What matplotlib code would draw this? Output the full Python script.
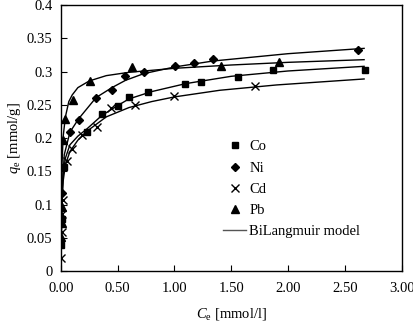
import matplotlib
matplotlib.use('Agg')
import matplotlib.pyplot as plt

plt.rcParams.update({
    'font.family': 'Liberation Serif',
    'font.size': 10.5,
    'mathtext.fontset': 'custom',
    'mathtext.rm': 'Liberation Serif',
    'mathtext.it': 'Liberation Serif:italic',
})

# measured points
co_x = [0.005, 0.01, 0.03, 0.23, 0.36, 0.50, 0.60, 0.77, 1.09, 1.23, 1.56, 1.87, 2.68]
co_y = [0.039, 0.078, 0.157, 0.209, 0.237, 0.248, 0.262, 0.270, 0.282, 0.284, 0.292, 0.302, 0.303]

ni_x = [0.01, 0.08, 0.156, 0.31, 0.447, 0.568, 0.73, 1.006, 1.17, 1.34, 2.62]
ni_y = [0.117, 0.209, 0.227, 0.261, 0.273, 0.293, 0.299, 0.309, 0.313, 0.319, 0.332]

cd_x = [0.002, 0.006, 0.01, 0.015, 0.05, 0.094, 0.19, 0.315, 0.44, 0.65, 0.997, 1.706]
cd_y = [0.019, 0.059, 0.086, 0.107, 0.165, 0.183, 0.2045, 0.217, 0.246, 0.250, 0.264, 0.278]

pb_x = [0.004, 0.007, 0.01, 0.015, 0.035, 0.11, 0.26, 0.63, 1.41, 1.92]
pb_y = [0.052, 0.072, 0.097, 0.197, 0.229, 0.257, 0.286, 0.307, 0.309, 0.315]

# BiLangmuir model curves
pb_fit_x = [0, 0.005, 0.01, 0.02, 0.04, 0.07, 0.1, 0.15, 0.25, 0.4, 0.6, 1.0, 1.5, 2.0, 2.67]
pb_fit_y = [0, 0.10, 0.16, 0.202, 0.232, 0.255, 0.265, 0.276, 0.286, 0.294, 0.299, 0.305, 0.310, 0.314, 0.318]

ni_fit_x = [0, 0.01, 0.03, 0.08, 0.156, 0.31, 0.45, 0.57, 0.73, 1.0, 1.34, 2.0, 2.67]
ni_fit_y = [0, 0.12, 0.175, 0.209, 0.229, 0.261, 0.276, 0.287, 0.297, 0.307, 0.316, 0.327, 0.335]

co_fit_x = [0, 0.005, 0.01, 0.02, 0.04, 0.08, 0.15, 0.23, 0.36, 0.5, 0.6, 0.8, 1.1, 1.5, 2.0, 2.67]
co_fit_y = [0, 0.07, 0.11, 0.145, 0.17, 0.19, 0.203, 0.214, 0.234, 0.249, 0.259, 0.270, 0.282, 0.293, 0.301, 0.308]

cd_fit_x = [0, 0.005, 0.01, 0.02, 0.04, 0.08, 0.15, 0.25, 0.4, 0.6, 0.8, 1.0, 1.4, 1.9, 2.67]
cd_fit_y = [0, 0.06, 0.10, 0.135, 0.16, 0.18, 0.197, 0.213, 0.232, 0.246, 0.255, 0.262, 0.272, 0.280, 0.289]

x_ticks = [0, 0.5, 1.0, 1.5, 2.0, 2.5, 3.0]
x_labels = ['0.00', '0.50', '1.00', '1.50', '2.00', '2.50', '3.00']
y_ticks = [0, 0.05, 0.1, 0.15, 0.2, 0.25, 0.3, 0.35, 0.4]
y_labels = ['0', '0.05', '0.1', '0.15', '0.2', '0.25', '0.3', '0.35', '0.4']

fig = plt.figure(figsize=(4.14, 3.22), dpi=100)
ax = fig.add_axes([0.147, 0.158, 0.823, 0.826])

lw = 1.0
ax.plot(pb_fit_x, pb_fit_y, color='black', lw=lw)
ax.plot(ni_fit_x, ni_fit_y, color='black', lw=lw)
ax.plot(co_fit_x, co_fit_y, color='black', lw=lw)
ax.plot(cd_fit_x, cd_fit_y, color='black', lw=lw)

ax.plot(co_x, co_y, 's', color='black', ms=5, label='Co')
ax.plot(ni_x, ni_y, 'D', color='black', ms=4.2, label='Ni')
ax.plot(cd_x, cd_y, 'x', color='black', ms=6, mew=1.0, label='Cd')
ax.plot(pb_x, pb_y, '^', color='black', ms=5.5, label='Pb')
ax.plot([], [], color='#555555', lw=lw, label='BiLangmuir model')

ax.set_xlim(0, 3.0)
ax.set_ylim(0, 0.4)
ax.set_xticks(x_ticks)
ax.set_xticklabels(x_labels)
ax.set_yticks(y_ticks)
ax.set_yticklabels(y_labels)
ax.tick_params(direction='in', length=4, width=0.8, pad=6)
ax.tick_params(axis='x', pad=8)
for s in ax.spines.values():
    s.set_linewidth(1.0)

ax.set_xlabel(r'$C_\mathrm{e}$ [mmol/l]', labelpad=8)
ax.set_ylabel(r'$q_\mathrm{e}$ [mmol/g]', labelpad=3)

ax.legend(loc='upper left', bbox_to_anchor=(0.476, 0.492), frameon=False,
          borderpad=0, borderaxespad=0, handlelength=1.6, handletextpad=0.2,
          labelspacing=0.55, fontsize=10.5)

fig.savefig('out.png', dpi=100)
